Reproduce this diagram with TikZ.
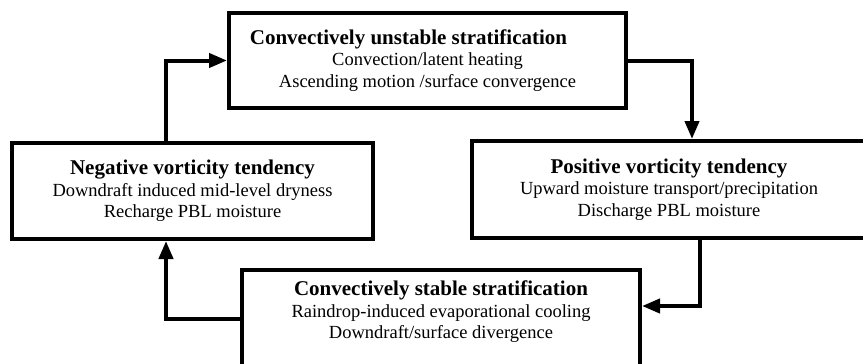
\documentclass[tikz,border=0pt]{standalone}
\usepackage{fontspec}
\setmainfont{Liberation Serif}
\usetikzlibrary{arrows.meta}

\newcommand{\stagetitle}[1]{{\fontsize{21}{21.5}\selectfont\bfseries #1}}

\tikzset{
  stagebox/.style={draw,line width=4pt,fill=white,align=center,inner sep=0pt,
    font=\fontsize{18.5}{21.5}\selectfont},
  loopline/.style={line width=4pt,-{Triangle[length=18pt,width=14pt]}}
}

\begin{document}
\begin{tikzpicture}[x=1pt,y=-1pt]
\clip (0,0) rectangle (863,364);
\fill[white] (0,0) rectangle (863,364);
% the four stages of the cycle
\node[stagebox,minimum width=397pt,minimum height=95pt] (unstable) at (427.5,60.5) {
  \hspace*{-38pt}\stagetitle{Convectively unstable stratification}\\
  Convection/latent heating\\
  Ascending motion /surface convergence};
\node[stagebox,minimum width=361pt,minimum height=96pt] (negative) at (192.5,191) {
  \stagetitle{Negative vorticity tendency}\\
  Downdraft induced mid-level dryness\\
  Recharge PBL moisture};
\node[stagebox,minimum width=394pt,minimum height=97pt] (positive) at (669,189.5) {
  \stagetitle{Positive vorticity tendency}\\
  Upward moisture transport/precipitation\\
  Discharge PBL moisture};
\node[stagebox,minimum width=398pt,minimum height=98pt,text depth=18pt] (stable) at (441,319) {
  \stagetitle{Convectively stable stratification}\\
  Raindrop-induced evaporational cooling\\
  Downdraft/surface divergence};
% connectors
\draw[loopline] ([xshift=-26.5pt]negative.north) |- (unstable.west);
\draw[loopline] (unstable.east) -| ([xshift=23pt]positive.north);
\draw[loopline] ([xshift=31pt]positive.south) |- ([yshift=13pt]stable.east);
\draw[loopline] (stable.west) -| ([xshift=-26.5pt]negative.south);
\end{tikzpicture}
\end{document}
